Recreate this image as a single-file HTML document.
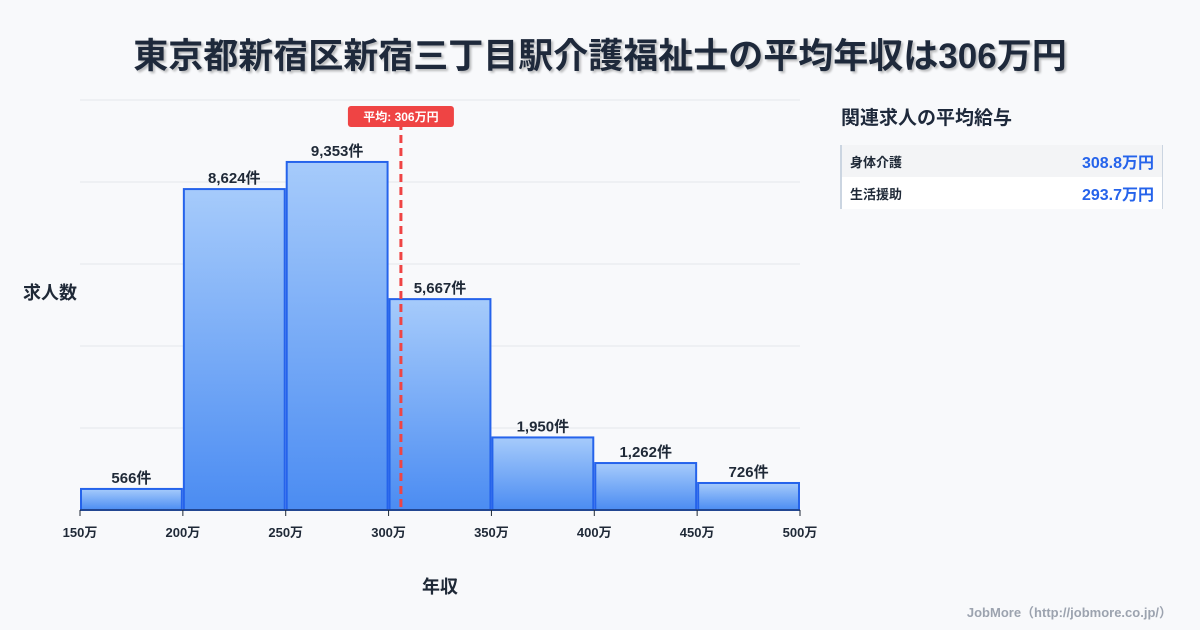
<!DOCTYPE html>
<html><head><meta charset="utf-8"><style>
body{margin:0;width:1200px;height:630px;background:#f8f9fb;font-family:"Liberation Sans","Noto Sans CJK JP",sans-serif;overflow:hidden;position:relative;color:#1f2937}
.title{position:absolute;left:0;width:1200px;top:28px;text-align:center;font-size:35px;font-weight:bold;color:#1e293b;text-shadow:2px 2px 2px rgba(0,0,0,0.25)}
.side{position:absolute;left:841px;top:103px;font-size:19px;font-weight:bold;color:#1e293b}
.tbl{position:absolute;left:840px;top:145px;width:320px;border-left:2px solid #cbd5e1;border-right:1px solid #cbd5e1}
.row{height:32px;display:flex;justify-content:space-between;align-items:center;padding:0 8px;font-size:13px;font-weight:bold}
.row span:last-child{color:#2563eb;font-size:16px}
.foot{position:absolute;right:28px;top:602px;font-size:13px;color:#9ca3af;font-weight:bold}
</style></head><body>
<div class="title">東京都新宿区新宿三丁目駅介護福祉士の平均年収は306万円</div>
<div class="side">関連求人の平均給与</div>
<div class="tbl">
<div class="row" style="background:#f3f4f6"><span>身体介護</span><span>308.8万円</span></div>
<div class="row" style="background:#fff"><span>生活援助</span><span>293.7万円</span></div>
</div>
<div class="foot">JobMore（http://jobmore.co.jp/）</div>
<svg id="chart" width="1200" height="630" style="position:absolute;left:0;top:0">
<defs><linearGradient id="g" x1="0" y1="0" x2="0" y2="1"><stop offset="0" stop-color="#a6cbfb"/><stop offset="1" stop-color="#4b8cf2"/></linearGradient></defs>
</svg>
<script>
const binStarts=[150,200,250,300,350,400,450];
const counts=[566,8624,9353,5667,1950,1262,726];
const tickLabels=[150,200,250,300,350,400,450,500];
const meanValue=306;
const svg=document.getElementById('chart');
const NS='http://www.w3.org/2000/svg';
const X0=80,X1=800,Y0=510,YT=100,xmin=150,xmax=500,ymax=Math.max(...counts)*1.178;
const xs=v=>X0+(v-xmin)/(xmax-xmin)*(X1-X0);
const ys=v=>Y0-v/ymax*(Y0-YT);
function mk(t,a,p){const e=document.createElementNS(NS,t);for(const k in a)e.setAttribute(k,a[k]);(p||svg).appendChild(e);return e;}
for(let i=0;i<=5;i++){const y=Y0-i*(Y0-YT)/5;const l=mk('line',{x1:X0,x2:X1,y1:y,y2:y,stroke:'#e5e7eb','stroke-width':1});

}
binStarts.forEach((b,i)=>{const x=xs(b)+1,w=xs(b+50)-xs(b)-2,y=ys(counts[i]);
const r=mk('rect',{x:x,y:y,width:w,height:Y0-y,fill:'url(#g)',stroke:'#2563eb','stroke-width':2});


const t=mk('text',{x:x+w/2,y:y-6,'text-anchor':'middle','font-size':15,'font-weight':'bold',fill:'#1f2937'});
t.textContent=counts[i].toLocaleString('en-US')+'件';

});
tickLabels.forEach(v=>{const x=xs(v);mk('line',{x1:x,x2:x,y1:Y0,y2:Y0+6,stroke:'#1f2937'});
const t=mk('text',{x:x,y:Y0+27,'text-anchor':'middle','font-size':13,'font-weight':'bold',fill:'#1f2937'});t.textContent=v+'万';

});
mk('line',{x1:X0,x2:X1,y1:Y0,y2:Y0,stroke:'#1f2937','stroke-width':1});
const mx=xs(meanValue);
const ml=mk('line',{x1:mx,x2:mx,y1:122,y2:Y0,stroke:'#ef4444','stroke-width':3,'stroke-dasharray':'8,5'});


mk('rect',{x:mx-53,y:106,width:106,height:21,rx:3,fill:'#ef4444'});
const mt=mk('text',{x:mx,y:121,'text-anchor':'middle','font-size':12,'font-weight':'bold',fill:'#fff'});mt.textContent='平均: '+meanValue+'万円';


const yt=mk('text',{x:50,y:299,'text-anchor':'middle','font-size':18,'font-weight':'bold',fill:'#1f2937'});yt.textContent='求人数';


const xt=mk('text',{x:440,y:593,'text-anchor':'middle','font-size':18,'font-weight':'bold',fill:'#1f2937'});xt.textContent='年収';


</script>
</body></html>
